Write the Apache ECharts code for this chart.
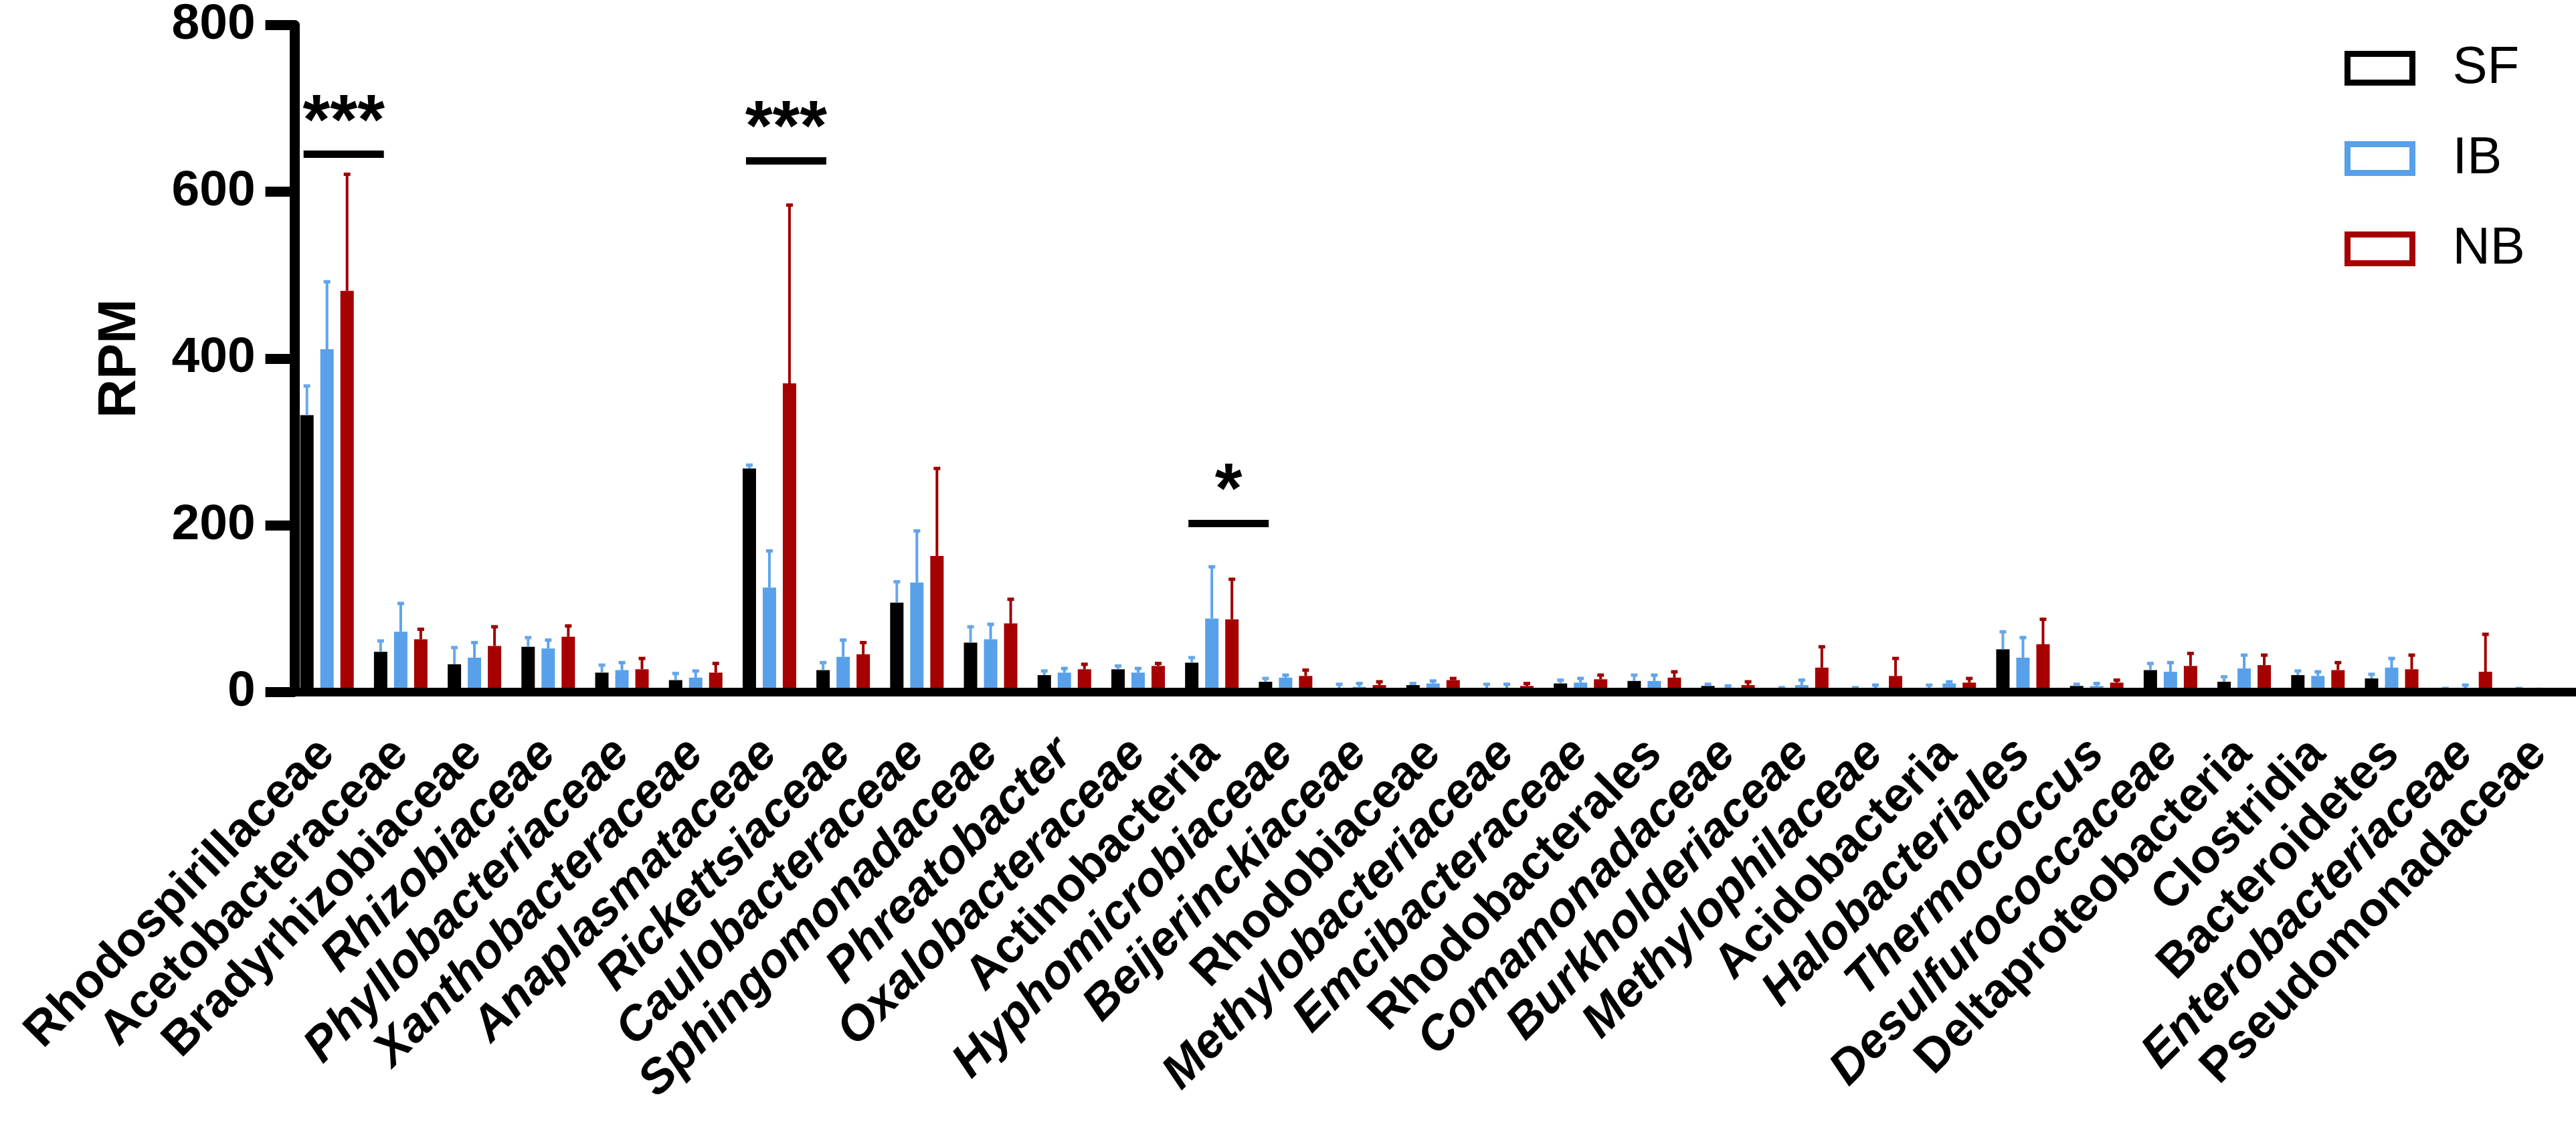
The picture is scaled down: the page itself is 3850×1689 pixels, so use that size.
<!DOCTYPE html>
<html>
<head>
<meta charset="utf-8">
<script src="https://cdn.jsdelivr.net/npm/echarts@6/dist/echarts.min.js"></script>
<style>
  html, body { margin: 0; padding: 0; background: #fff; }
  #chart { width: 3850px; height: 1689px; }
</style>
</head>
<body>
<div id="chart"></div>
<script>
// categories (x axis)
const taxa = [
    'Rhodospirillaceae', 'Acetobacteraceae', 'Bradyrhizobiaceae', 'Rhizobiaceae',
    'Phyllobacteriaceae', 'Xanthobacteraceae', 'Anaplasmataceae', 'Rickettsiaceae',
    'Caulobacteraceae', 'Sphingomonadaceae', 'Phreatobacter', 'Oxalobacteraceae',
    'Actinobacteria', 'Hyphomicrobiaceae', 'Beijerinckiaceae', 'Rhodobiaceae',
    'Methylobacteriaceae', 'Emcibacteraceae', 'Rhodobacterales', 'Comamonadaceae',
    'Burkholderiaceae', 'Methylophilaceae', 'Acidobacteria', 'Halobacteriales',
    'Thermococcus', 'Desulfurococcaceae', 'Deltaproteobacteria', 'Clostridia',
    'Bacteroidetes', 'Enterobacteriaceae', 'Pseudomonadaceae'
];

// labels set in italics
const italicTaxa = [
    'Rhizobiaceae', 'Phyllobacteriaceae', 'Xanthobacteraceae', 'Anaplasmataceae',
    'Rickettsiaceae', 'Caulobacteraceae', 'Sphingomonadaceae', 'Phreatobacter',
    'Oxalobacteraceae', 'Hyphomicrobiaceae', 'Beijerinckiaceae', 'Methylobacteriaceae',
    'Emcibacteraceae', 'Comamonadaceae', 'Burkholderiaceae', 'Methylophilaceae',
    'Halobacteriales', 'Thermococcus', 'Desulfurococcaceae', 'Enterobacteriaceae'
];

// group means (RPM)
const sfMean = [332, 48, 33, 54, 23, 14, 268, 26, 107, 59, 20, 27, 35, 12, 4, 8, 3, 10, 13, 7, 2, 2, 3, 51, 7, 26, 12, 20, 16, 1, 1];
const ibMean = [411, 72, 41, 52, 26, 17, 125, 42, 131, 63, 23, 23, 88, 17, 6, 10, 3, 11, 13, 5, 8, 4, 10, 41, 7, 24, 28, 19, 29, 3, 1];
const nbMean = [481, 63, 55, 66, 27, 23, 370, 45, 163, 82, 27, 31, 87, 19, 8, 14, 7, 15, 17, 8, 29, 19, 11, 57, 11, 31, 32, 26, 27, 24, 0.5];

// upper error (SD)
const sfSd = [35, 13, 20, 11, 9, 8, 4, 9, 25, 19, 5, 4, 6, 4, 5, 2, 6, 4, 7, 2, 3, 3, 5, 21, 2, 8, 6, 5, 5, 3, 3];
const ibSd = [81, 34, 18, 10, 9, 8, 44, 20, 62, 18, 5, 5, 62, 3, 4, 3, 6, 5, 7, 2, 6, 4, 2, 24, 3, 11, 16, 5, 11, 5, 2];
const nbSd = [140, 12, 23, 13, 13, 11, 214, 14, 105, 29, 6, 3, 48, 7, 4, 2, 3, 5, 7, 4, 25, 21, 5, 30, 3, 15, 12, 9, 17, 45, 0.5];

// significance marks: category, height of bar (RPM), label
const sigTaxa = ['Rhodospirillaceae', 'Anaplasmataceae', 'Actinobacteria'];
const sigLevel = [645, 637, 202];
const sigLabel = ['***', '***', '*'];

const groups = ['SF', 'IB', 'NB'];

const FONT = '"Liberation Sans", Arial, sans-serif';
const colors = { SF: '#000000', IB: '#58A0EA', NB: '#A60000' };
const errColors = { SF: '#6AA8E8', IB: '#5EA3EC', NB: '#9E0000' };
const BAR_W = 20;
const BAR_STEP = 30;

function barSeries(name, values) {
    return {
        name: name,
        type: 'bar',
        barWidth: BAR_W,
        barGap: '50%',
        z: 2,
        itemStyle: { color: colors[name] },
        data: values
    };
}

// upper error bar with a small cap, placed over its bar
function errorSeries(name, means, sds, slot) {
    return {
        name: name + '_err',
        type: 'custom',
        z: 3,
        silent: true,
        data: means.map((m, i) => [i, m, m + sds[i]]),
        encode: { x: 0, y: [1, 2] },
        renderItem: (params, api) => {
            const i = api.value(0);
            const base = api.coord([i, api.value(1)]);
            const top = api.coord([i, api.value(2)]);
            const x = base[0] + slot * BAR_STEP;
            const c = errColors[name];
            return {
                type: 'group',
                children: [
                    { type: 'line', shape: { x1: x, y1: base[1], x2: x, y2: top[1] }, style: { stroke: c, lineWidth: 4 } },
                    { type: 'rect', shape: { x: x - 5, y: top[1] - 2.5, width: 10, height: 5 }, style: { fill: c } }
                ]
            };
        }
    };
}

const sigSeries = {
    name: 'sig',
    type: 'custom',
    z: 4,
    silent: true,
    data: sigTaxa.map((t, k) => [taxa.indexOf(t), sigLevel[k]]),
    encode: { x: 0, y: 1 },
    renderItem: (params, api) => {
        const p = api.coord([api.value(0), api.value(1)]);
        const cx = p[0] + 25;
        return {
            type: 'group',
            children: [
                { type: 'rect', shape: { x: cx - 60, y: p[1] - 5.5, width: 120, height: 11 }, style: { fill: '#000' } },
                {
                    type: 'text', x: cx, y: p[1] - 45,
                    style: {
                        text: sigLabel[params.dataIndex], fill: '#000', font: 'bold 105px ' + FONT,
                        align: 'center', verticalAlign: 'middle'
                    }
                }
            ]
        };
    }
};

const chart = echarts.init(document.getElementById('chart'));

chart.setOption({
    animation: false,
    backgroundColor: '#fff',
    grid: { left: 433.6, top: 35, width: 3432, height: 999, containLabel: false },
    legend: {
        orient: 'vertical',
        left: 3504,
        top: 63,
        padding: 0,
        itemGap: 57,
        itemWidth: 97,
        itemHeight: 43,
        icon: 'rect',
        selectedMode: false,
        textStyle: { fontSize: 78, fontFamily: FONT, color: '#000', padding: [0, 0, 0, 55] },
        data: groups.map(g => ({
            name: g,
            itemStyle: { color: '#fff', borderColor: colors[g], borderWidth: 9 }
        }))
    },
    xAxis: {
        type: 'category',
        data: taxa,
        z: 5,
        axisLine: { lineStyle: { color: '#000', width: 13 } },
        axisTick: { alignWithLabel: true, length: 44, lineStyle: { color: '#000', width: 14 } },
        axisLabel: {
            interval: 0,
            rotate: 45,
            margin: 82,
            color: '#000',
            formatter: n => (italicTaxa.indexOf(n) >= 0 ? '{i|' + n + '}' : '{n|' + n + '}'),
            rich: {
                i: { fontSize: 72, fontWeight: 'bold', fontStyle: 'italic', fontFamily: FONT, color: '#000' },
                n: { fontSize: 72, fontWeight: 'bold', fontFamily: FONT, color: '#000' }
            }
        }
    },
    yAxis: {
        type: 'value',
        min: 0,
        max: 800,
        interval: 200,
        offset: -7,
        name: 'RPM',
        nameLocation: 'middle',
        nameRotate: 90,
        nameGap: 221,
        nameTextStyle: { fontSize: 80, fontWeight: 'bold', fontFamily: FONT, color: '#000' },
        axisLine: { show: true, lineStyle: { color: '#000', width: 15 } },
        axisTick: { show: true, length: 44, lineStyle: { color: '#000', width: 15 } },
        axisLabel: { margin: 59, fontSize: 75, fontWeight: 'bold', fontFamily: FONT, color: '#000' },
        splitLine: { show: false }
    },
    series: [
        barSeries('SF', sfMean),
        barSeries('IB', ibMean),
        barSeries('NB', nbMean),
        errorSeries('SF', sfMean, sfSd, -1),
        errorSeries('IB', ibMean, ibSd, 0),
        errorSeries('NB', nbMean, nbSd, 1),
        sigSeries
    ]
});
</script>
</body>
</html>
